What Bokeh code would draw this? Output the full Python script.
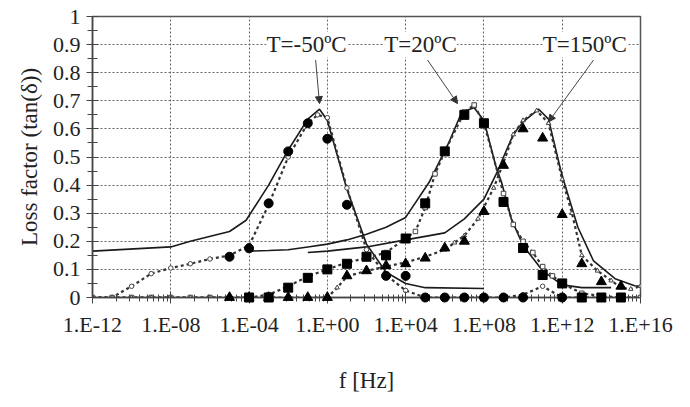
from bokeh.plotting import figure
from bokeh.models import (Range1d, FixedTicker, CustomJSTickFormatter, Label, Arrow,
                          NormalHead)
from bokeh.embed import file_html
from bokeh.resources import INLINE

# ---------------- data ----------------
# T = -50 C
m50_solid_f = [1e-12, 1e-8, 1e-7, 1e-5, 10**-4.15, 1e-3, 1e-2, 1e-1, 10**-0.4, 1e0, 1e1, 1e2, 1e3, 1e4, 1e5, 1e8]
m50_solid_v = [0.165, 0.18, 0.20, 0.235, 0.275, 0.40, 0.525, 0.635, 0.67, 0.63, 0.385, 0.19, 0.09, 0.05, 0.035, 0.032]
m50_dot_f = [1e-12, 1e-11, 1e-10, 1e-9, 1e-8, 1e-7, 1e-6, 1e-5, 1e-4, 1e-3, 1e-2, 1e-1, 10**-0.5, 1e0, 1e1, 1e2,
             1e3, 1e4, 1e5, 1e6, 1e7, 1e8, 1e9, 1e10, 1e11, 1e12, 1e13, 1e14, 1e15, 1e16]
m50_dot_v = [0, 0, 0.04, 0.085, 0.105, 0.12, 0.137, 0.15, 0.185, 0.33, 0.50, 0.62, 0.65, 0.64, 0.39, 0.17,
             0.08, 0.025, 0, 0, 0, 0, 0, 0.01, 0.04, 0, 0, 0, 0, 0]
m50_exp_f = [1e-5, 1e-4, 1e-3, 1e-2, 1e-1, 1e0, 1e1, 1e3, 1e4, 1e5, 1e6, 1e7, 1e8, 1e9, 1e10, 1e12]
m50_exp_v = [0.145, 0.175, 0.335, 0.52, 0.62, 0.565, 0.33, 0.077, 0.077, 0, 0, 0, 0, 0, 0, 0]

# T = 20 C
p20_solid_f = [1e-4, 1e-3, 1e-2, 1e-1, 1e0, 1e1, 1e2, 1e3, 1e4, 10**5.2, 10**5.7, 10**6.2, 10**6.87, 10**7.5,
               1e8, 10**8.6, 10**8.9, 10**9.4, 1e10, 1e11, 1e12, 1e13, 10**14.5]
p20_solid_v = [0.165, 0.167, 0.17, 0.18, 0.19, 0.205, 0.225, 0.25, 0.285, 0.41, 0.48, 0.55, 0.66, 0.675,
               0.63, 0.47, 0.41, 0.28, 0.185, 0.095, 0.045, 0.035, 0.035]
p20_dot_f = [1e-12, 1e-11, 1e-10, 1e-9, 1e-8, 1e-7, 1e-6, 1e-5, 1e-4, 1e-3, 1e-2, 1e-1, 1e0, 1e1, 1e2, 1e3,
             1e4, 10**4.5, 1e5, 10**5.5, 1e6, 1e7, 10**7.5, 1e8, 1e9, 10**9.5, 1e10, 10**10.5, 1e11,
             10**11.5, 1e12, 1e13, 1e14, 1e15, 1e16]
p20_dot_v = [0, 0, 0, 0, 0, 0, 0, 0, 0, 0.01, 0.04, 0.075, 0.10, 0.125, 0.14, 0.16,
             0.21, 0.235, 0.32, 0.44, 0.52, 0.66, 0.685, 0.62, 0.37, 0.26, 0.20, 0.16, 0.11,
             0.077, 0.05, 0.015, 0.005, 0, 0]
p20_exp_f = [1e-4, 1e-3, 1e-2, 1e-1, 1e0, 1e1, 1e2, 1e3, 1e4, 1e5, 1e6, 1e7, 1e8, 1e9, 1e10, 1e11, 1e12,
             1e13, 1e14, 1e15]
p20_exp_v = [0, 0, 0.035, 0.07, 0.10, 0.12, 0.145, 0.15, 0.21, 0.335, 0.52, 0.65, 0.62, 0.34, 0.176, 0.08,
             0.05, 0, 0, 0]

# T = 150 C
p150_solid_f = [1e-1, 1e0, 1e2, 1e4, 1e6, 1e7, 1e8, 10**8.7, 1e9, 10**9.5, 1e10, 10**10.8, 10**11.3,
                10**11.9, 10**12.1, 10**12.8, 10**13.6, 10**14.7, 10**15.7, 1e16]
p150_solid_v = [0.16, 0.165, 0.18, 0.205, 0.23, 0.28, 0.35, 0.45, 0.50, 0.58, 0.625, 0.67, 0.635,
                0.46, 0.41, 0.25, 0.13, 0.067, 0.042, 0.04]
p150_dot_f = [1e-12, 1e-11, 1e-10, 1e-9, 1e-8, 1e-7, 1e-6, 1e-5, 1e-4, 1e-3, 1e-2, 1e-1, 1e0, 10**0.5,
              1e1, 1e2, 1e3, 1e4, 1e5, 1e6, 10**6.5, 1e7, 10**7.7, 10**8.5, 1e9, 10**9.5, 1e10, 10**10.7,
              10**11.3, 1e12, 10**12.5, 1e13, 10**13.8, 10**14.5, 1e15, 10**15.5, 1e16]
p150_dot_v = [0, 0, 0, 0, 0, 0, 0, 0, 0, 0, 0, 0, 0, 0.035,
              0.075, 0.095, 0.11, 0.125, 0.145, 0.17, 0.195, 0.22, 0.28, 0.39, 0.48, 0.58, 0.63, 0.665,
              0.62, 0.42, 0.30, 0.15, 0.095, 0.06, 0.035, 0.03, 0.04]
p150_exp_f = [1e-5, 1e-4, 1e-3, 1e-2, 1e-1, 1e0, 1e1, 1e2, 1e3, 1e4, 1e5, 1e6, 1e7, 1e8, 1e9, 1e10, 1e11,
              1e12, 1e13, 1e14, 1e15]
p150_exp_v = [0, 0, 0, 0, 0, 0, 0.077, 0.095, 0.113, 0.12, 0.14, 0.176, 0.20, 0.306, 0.47, 0.60, 0.567,
              0.295, 0.12, 0.056, 0.04]

y_ticks = [0.0, 0.1, 0.2, 0.3, 0.4, 0.5, 0.6, 0.7, 0.8, 0.9, 1.0]
x_ticks = [1e-12, 1e-8, 1e-4, 1e0, 1e4, 1e8, 1e12, 1e16]

labels = ["T=-50ºC", "T=20ºC", "T=150ºC"]

# ---------------- figure ----------------
FONT = "Liberation Serif"
p = figure(width=684, height=399, x_axis_type="log",
           x_range=Range1d(1e-12, 1e16), y_range=Range1d(0, 1),
           output_backend="svg", toolbar_location=None,
           min_border_left=92, min_border_right=44, min_border_top=16, min_border_bottom=102,
           x_axis_label="f [Hz]", y_axis_label="Loss factor (tan(δ))")
p.background_fill_color = "white"
p.border_fill_color = "white"
p.outline_line_color = "#555555"
p.outline_line_width = 1.5

minor_x = []
for e in x_ticks[:-1]:
    for k in range(2, 10):
        minor_x.append(e * k ** 4)
p.xaxis.ticker = FixedTicker(ticks=x_ticks, minor_ticks=minor_x)
p.yaxis.ticker = FixedTicker(ticks=y_ticks, minor_ticks=[t + 0.05 for t in y_ticks[:-1]])
p.xaxis.formatter = CustomJSTickFormatter(code="""
const e = Math.round(Math.log10(tick));
const a = Math.abs(e);
return '1.E' + (e < 0 ? '-' : '+') + (a < 10 ? '0' + a : '' + a);
""")
p.yaxis.formatter = CustomJSTickFormatter(code="return '' + Number(tick.toFixed(1));")

for ax in (p.xaxis[0], p.yaxis[0]):
    ax.axis_line_color = "#444444"
    ax.axis_line_width = 1.5
    ax.major_tick_line_color = "#444444"
    ax.minor_tick_line_color = "#444444"
    ax.major_tick_in = 6
    ax.major_tick_out = 6
    ax.minor_tick_in = 3
    ax.minor_tick_out = 4
    ax.major_label_text_font = FONT
    ax.major_label_text_font_size = "22px"
    ax.major_label_text_color = "#222222"
    ax.axis_label_text_font = FONT
    ax.axis_label_text_font_size = "23px"
    ax.axis_label_text_font_style = "normal"
    ax.axis_label_text_color = "#222222"
p.yaxis.minor_tick_in = 5
p.yaxis.minor_tick_out = 5
p.xaxis.major_label_standoff = 8
p.xaxis.axis_label_standoff = 28
p.yaxis.major_label_standoff = 6
p.yaxis.axis_label_standoff = 8

p.xgrid.ticker = FixedTicker(ticks=x_ticks)
p.ygrid.ticker = FixedTicker(ticks=y_ticks)
for g in (p.xgrid[0], p.ygrid[0]):
    g.grid_line_color = "#666666"
    g.grid_line_dash = "2 2"
    g.grid_line_width = 1

LC = "#1a1a1a"
DC = "#333333"

# solid model curves
for f, v in ((m50_solid_f, m50_solid_v), (p20_solid_f, p20_solid_v), (p150_solid_f, p150_solid_v)):
    p.line(f, v, line_color=LC, line_width=1.6)

# dotted model curves with small open markers
for f, v, mk in ((m50_dot_f, m50_dot_v, "circle"), (p20_dot_f, p20_dot_v, "square"),
                 (p150_dot_f, p150_dot_v, "triangle")):
    p.line(f, v, line_color=DC, line_width=2.2, line_dash="3 3")
    p.scatter(f, v, marker=mk, size=4.5, fill_color="white", line_color="#444444", line_width=1)

# experimental points
p.scatter(m50_exp_f, m50_exp_v, marker="circle", size=9, fill_color="black", line_color="black",
          level="overlay")
p.scatter(p20_exp_f, p20_exp_v, marker="square", size=9, fill_color="black", line_color="black",
          level="overlay")
p.scatter(p150_exp_f, p150_exp_v, marker="triangle", size=10, fill_color="black", line_color="black",
          level="overlay")

# annotations
lab_x = [10 ** -1.06, 10 ** 4.76, 10 ** 13.15]
arrow_start = [(10 ** -0.6, 0.845), (10 ** 5.12, 0.845), (10 ** 13.6, 0.845)]
arrow_end = [(10 ** -0.4, 0.69), (10 ** 6.65, 0.69), (10 ** 11.3, 0.625)]
for txt, lx, s, e in zip(labels, lab_x, arrow_start, arrow_end):
    p.add_layout(Arrow(end=NormalHead(size=7, fill_color="#333333", line_color="#333333"),
                       x_start=s[0], y_start=s[1], x_end=e[0], y_end=e[1],
                       line_color="#444444", line_width=1))
    p.add_layout(Label(x=lx, y=0.9, text=txt, text_align="center", text_baseline="middle",
                       text_font=FONT, text_font_size="23px", text_color="#222222",
                       background_fill_color="white"))

open("out.html", "w").write(file_html(p, INLINE))
